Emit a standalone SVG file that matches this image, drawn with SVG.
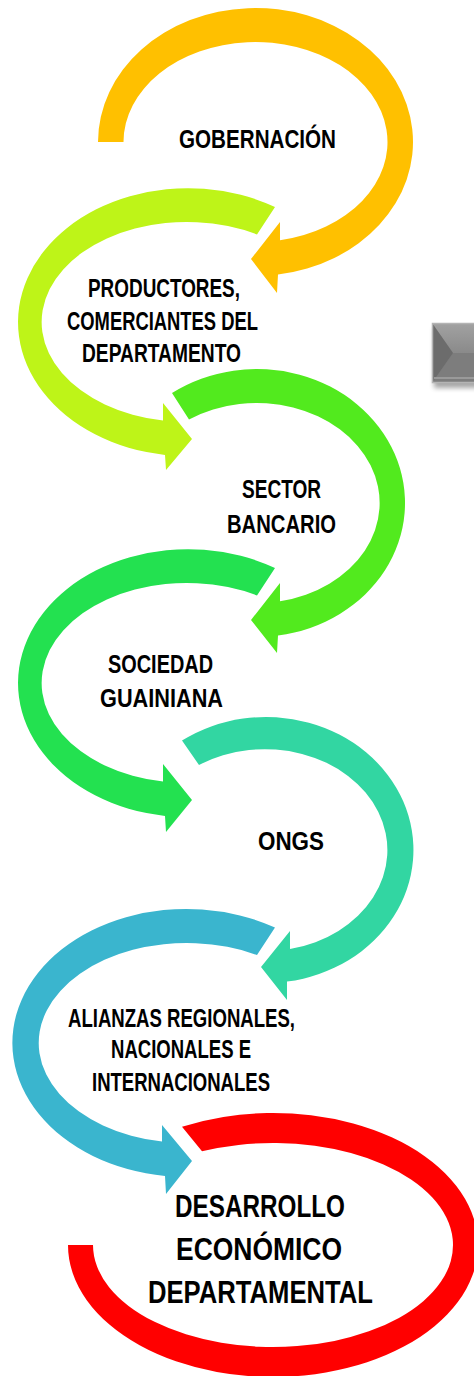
<svg xmlns="http://www.w3.org/2000/svg" width="474" height="1376" viewBox="0 0 474 1376">
<style>
  .lbl { font-family: "Liberation Sans", Arial, sans-serif; font-weight: bold; font-size: 25.5px; fill: #000; text-anchor: middle; }
  .big { font-size: 31.5px; }
</style>
<defs>
  <filter id="blur" x="-30%" y="-30%" width="160%" height="160%"><feGaussianBlur stdDeviation="2.5"/></filter>
  <linearGradient id="gtop" x1="0" y1="0" x2="0" y2="1">
    <stop offset="0" stop-color="#a2a2a2"/>
    <stop offset="1" stop-color="#8a8a8a"/>
  </linearGradient>
</defs>
<rect width="474" height="1376" fill="#fff"/>

<g id="connectors">
  <path id="arc-gobernacion" fill="#FFC000" d="M 98,142 A 157.5 134 0 1 1 278,274.6 L 277,293 L 251,259 L 280,222 L 280,240.3 A 132 100 0 1 0 123.5,142 Z"/>
  <path id="arc-productores" fill="#BEF418" d="M 275,207 A 170 134 0 1 0 165,454.9 L 166,470 L 192,439 L 163,403 L 163,420.6 A 145 100 0 1 1 257,234.5 Z"/>
  <path id="arc-sector" fill="#52EA1E" d="M 172,393 A 148.3 134 0 1 1 278,635.6 L 277,653 L 251,620 L 280,583 L 280,601.2 A 123 100 0 1 0 189,419.5 Z"/>
  <path id="arc-sociedad" fill="#23E150" d="M 275,568 A 170 134 0 1 0 165,815.9 L 166,832 L 192,800 L 163,764 L 163,781.6 A 145 100 0 1 1 257,595.5 Z"/>
  <path id="arc-ongs" fill="#32D6A2" d="M 182,740.6 A 147.5 133 0 1 1 287,981.6 L 287,1000 L 261,967 L 290,931 L 290,949 A 122.5 101 0 1 0 199,765 Z"/>
  <path id="arc-alianzas" fill="#3AB5CE" d="M 275,927.6 A 174 134 0 1 0 165,1175.9 L 166,1194 L 192,1161 L 162,1125 L 162,1141.6 A 148 100 0 1 1 257,955 Z"/>
  <path id="arc-desarrollo" fill="#FF0000" d="M 182,1126.7 A 205 132 0 1 1 68,1245 L 93,1245 A 180 102 0 1 0 202,1151.3 Z"/>
</g>

<g id="node-gobernacion">
  <text class="lbl" x="257.5" y="148" textLength="157" lengthAdjust="spacingAndGlyphs">GOBERNACIÓN</text>
</g>
<g id="node-productores">
  <text class="lbl" x="164" y="297" textLength="152" lengthAdjust="spacingAndGlyphs">PRODUCTORES,</text>
  <text class="lbl" x="162.5" y="330" textLength="191" lengthAdjust="spacingAndGlyphs">COMERCIANTES DEL</text>
  <text class="lbl" x="161.5" y="362" textLength="159" lengthAdjust="spacingAndGlyphs">DEPARTAMENTO</text>
</g>
<g id="node-sector">
  <text class="lbl" x="281.5" y="498" textLength="79" lengthAdjust="spacingAndGlyphs">SECTOR</text>
  <text class="lbl" x="281.5" y="533" textLength="109" lengthAdjust="spacingAndGlyphs">BANCARIO</text>
</g>
<g id="node-sociedad">
  <text class="lbl" x="160.5" y="673" textLength="105" lengthAdjust="spacingAndGlyphs">SOCIEDAD</text>
  <text class="lbl" x="161.5" y="707" textLength="123" lengthAdjust="spacingAndGlyphs">GUAINIANA</text>
</g>
<g id="node-ongs">
  <text class="lbl" x="291" y="850" textLength="66" lengthAdjust="spacingAndGlyphs">ONGS</text>
</g>
<g id="node-alianzas">
  <text class="lbl" x="181.5" y="1027" textLength="227" lengthAdjust="spacingAndGlyphs">ALIANZAS REGIONALES,</text>
  <text class="lbl" x="181" y="1058" textLength="140" lengthAdjust="spacingAndGlyphs">NACIONALES E</text>
  <text class="lbl" x="181" y="1091" textLength="178" lengthAdjust="spacingAndGlyphs">INTERNACIONALES</text>
</g>
<g id="node-desarrollo">
  <text class="lbl big" x="260" y="1217" textLength="170" lengthAdjust="spacingAndGlyphs">DESARROLLO</text>
  <text class="lbl big" x="259" y="1260" textLength="166" lengthAdjust="spacingAndGlyphs">ECONÓMICO</text>
  <text class="lbl big" x="260.5" y="1303" textLength="225" lengthAdjust="spacingAndGlyphs">DEPARTAMENTAL</text>
</g>

<g id="side-arrow">
  <rect x="434" y="328" width="50" height="60" fill="#000" opacity="0.35" filter="url(#blur)"/>
  <rect x="432" y="323" width="50" height="60" fill="#858585"/>
  <polygon points="432,323 482,323 482,353 453,353" fill="url(#gtop)"/>
  <polygon points="432,383 453,353 482,353 482,383" fill="#7d7d7d"/>
  <polygon points="432,323 453,353 432,383" fill="#6c6c6c"/>
  <rect x="432.5" y="323.5" width="50" height="59" fill="none" stroke="#b4b4b4" stroke-width="1.5"/>
  <line x1="434" y1="378" x2="482" y2="378" stroke="#9a9a9a" stroke-width="2"/>
</g>
</svg>
